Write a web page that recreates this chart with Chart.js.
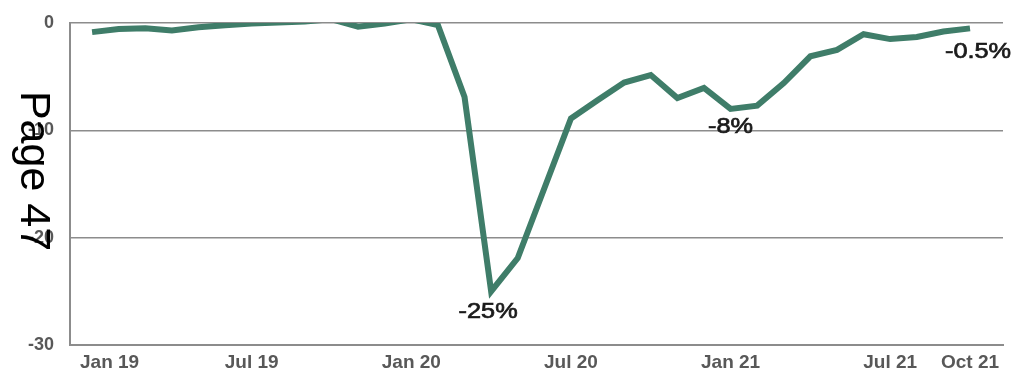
<!DOCTYPE html>
<html>
<head>
<meta charset="utf-8">
<script src="https://cdn.jsdelivr.net/npm/chart.js@4"></script>
<style>
  html, body { margin: 0; padding: 0; background: #fff; }
  #wrap { width: 1015px; height: 374px; }
</style>
</head>
<body>
<div id="wrap"><canvas id="chart"></canvas></div>
<script>
// Monthly change, Jan 2019 - Oct 2021 (%)
const months = [
    'Jan 19', 'Feb 19', 'Mar 19', 'Apr 19', 'May 19', 'Jun 19',
    'Jul 19', 'Aug 19', 'Sep 19', 'Oct 19', 'Nov 19', 'Dec 19',
    'Jan 20', 'Feb 20', 'Mar 20', 'Apr 20', 'May 20', 'Jun 20',
    'Jul 20', 'Aug 20', 'Sep 20', 'Oct 20', 'Nov 20', 'Dec 20',
    'Jan 21', 'Feb 21', 'Mar 21', 'Apr 21', 'May 21', 'Jun 21',
    'Jul 21', 'Aug 21', 'Sep 21', 'Oct 21'
];
const values = [
    -0.85, -0.55, -0.5, -0.7, -0.4, -0.2, -0.05, 0.05, 0.15, 0.35, -0.35, -0.05,
    0.35, -0.2, -6.9, -25, -21.9, -15.4, -8.9, -7.2, -5.55, -4.85, -7.0, -6.05,
    -8, -7.7, -5.6, -3.1, -2.5, -1.05, -1.5, -1.3, -0.8, -0.5
];
const tickMonths = ['Jan 19', 'Jul 19', 'Jan 20', 'Jul 20', 'Jan 21', 'Jul 21', 'Oct 21'];
const yTicks = [0, -10, -20, -30];
const labelledMonths = ['Apr 20', 'Jan 21', 'Oct 21'];
const pageText = 'Page 47';

const GREEN = '#3f7d69';
const GRID = '#8c8c8c';
const TICK = '#585858';
const FONT = '"Liberation Sans", Arial, sans-serif';

// month labels under the x axis, kept inside the plot on the left
const monthLabels = {
    id: 'monthLabels',
    afterDraw(chart) {
        const ctx = chart.ctx;
        const xs = chart.scales.x;
        const area = chart.chartArea;
        ctx.save();
        ctx.font = 'bold 19px ' + FONT;
        ctx.fillStyle = TICK;
        ctx.textAlign = 'center';
        ctx.textBaseline = 'middle';
        tickMonths.forEach(m => {
            const w = ctx.measureText(m).width;
            let x = xs.getPixelForValue(months.indexOf(m));
            x = Math.max(x, area.left + 10 + w / 2);
            ctx.fillText(m, x, area.bottom + 18);
        });
        ctx.restore();
    }
};

// value labels under the marked points
const valueLabels = {
    id: 'valueLabels',
    afterDatasetsDraw(chart) {
        const ctx = chart.ctx;
        const pts = chart.getDatasetMeta(0).data;
        const offsets = { 'Apr 20': [-3, 21], 'Jan 21': [0, 18], 'Oct 21': [8, 24] };
        ctx.save();
        ctx.font = '22px ' + FONT;
        ctx.fillStyle = '#1a1a1a';
        ctx.strokeStyle = '#1a1a1a';
        ctx.lineWidth = 0.7;
        ctx.textAlign = 'center';
        ctx.textBaseline = 'middle';
        labelledMonths.forEach(m => {
            const i = months.indexOf(m);
            const p = pts[i];
            const off = offsets[m];
            ctx.save();
            ctx.translate(p.x + off[0], p.y + off[1]);
            ctx.scale(1.15, 1);
            ctx.fillText(values[i] + '%', 0, 0);
            ctx.strokeText(values[i] + '%', 0, 0);
            ctx.restore();
        });
        ctx.restore();
    }
};

// page stamp running down the left margin
const pageStamp = {
    id: 'pageStamp',
    afterDraw(chart) {
        const ctx = chart.ctx;
        ctx.save();
        ctx.translate(33, 171);
        ctx.rotate(Math.PI / 2);
        ctx.font = '43px ' + FONT;
        ctx.fillStyle = '#000';
        ctx.textAlign = 'center';
        ctx.textBaseline = 'middle';
        ctx.fillText(pageText, 0, 0);
        ctx.restore();
    }
};

new Chart(document.getElementById('chart'), {
    type: 'line',
    data: {
        datasets: [{
            data: values.map((v, i) => ({ x: i, y: v })),
            borderColor: GREEN,
            borderWidth: 6,
            borderJoinStyle: 'miter',
            pointRadius: 0,
            tension: 0,
            fill: false
        }]
    },
    options: {
        responsive: true,
        maintainAspectRatio: false,
        animation: false,
        layout: { padding: { top: 23, right: 12, left: 0, bottom: 0 } },
        plugins: {
            legend: { display: false },
            tooltip: { enabled: false }
        },
        scales: {
            x: {
                type: 'linear',
                min: -0.83,
                max: 34.24,
                afterBuildTicks: (scale) => {
                    scale.ticks = tickMonths.map(m => ({ value: months.indexOf(m) }));
                },
                afterFit: (scale) => { scale.height = 29; },
                grid: { display: false, drawTicks: false },
                border: { display: true, color: GRID, width: 2 },
                ticks: { display: false }
            },
            y: {
                min: -30,
                max: 0,
                afterBuildTicks: (scale) => {
                    scale.ticks = yTicks.map(v => ({ value: v }));
                },
                afterFit: (scale) => { scale.width = 70; },
                grid: { color: GRID, lineWidth: 1.5, drawTicks: false },
                border: { display: true, color: GRID, width: 2 },
                ticks: {
                    padding: 16,
                    color: TICK,
                    font: { family: FONT, size: 18, weight: 'bold', lineHeight: 0.6 }
                }
            }
        }
    },
    plugins: [valueLabels, monthLabels, pageStamp]
});
</script>
</body>
</html>
